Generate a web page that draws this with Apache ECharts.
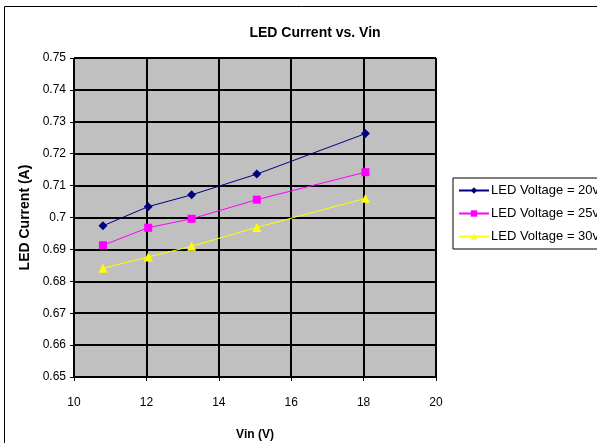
<!DOCTYPE html>
<html>
<head>
<meta charset="utf-8">
<script src="https://cdn.jsdelivr.net/npm/echarts@6/dist/echarts.min.js"></script>
<style>
  html, body { margin: 0; padding: 0; background: #fff; }
  #chart { width: 597px; height: 443px; }
</style>
</head>
<body>
<div id="chart"></div>
<script>
// Input voltage (V) at each measurement
const vin = [10.8, 12.05, 13.25, 15.05, 18.05];

// LED current (A) for each LED string voltage
const current20v = [0.6974, 0.7034, 0.7071, 0.7136, 0.7263];
const current25v = [0.6913, 0.6968, 0.6996, 0.7056, 0.7142];
const current30v = [0.6841, 0.6876, 0.6910, 0.6969, 0.7060];

const seriesNames = ['LED Voltage = 20v', 'LED Voltage = 25v', 'LED Voltage = 30v'];

const pairs = (ys) => vin.map((x, i) => [x, ys[i]]);
const FONT = 'Liberation Sans, Arial, sans-serif';

const chart = echarts.init(document.getElementById('chart'));

function makeSeries(name, ys, color, symbol, size) {
  return {
    name: name,
    type: 'line',
    data: pairs(ys),
    symbol: symbol,
    symbolSize: size,
    showAllSymbol: true,
    lineStyle: { color: color, width: 1 },
    itemStyle: { color: color },
    emphasis: { disabled: true },
    animation: false
  };
}

chart.setOption({
  animation: false,
  backgroundColor: '#ffffff',
  title: {
    text: 'LED Current vs. Vin',
    left: 310,
    textAlign: 'center',
    top: 21,
    textStyle: { fontFamily: FONT, fontSize: 14, fontWeight: 'bold', color: '#000' }
  },
  graphic: [{
    type: 'rect',
    shape: { x: 4.5, y: 6.5, width: 620, height: 460 },
    style: { fill: 'none', stroke: '#000', lineWidth: 1 },
    z: 100
  }],
  grid: {
    left: 74, right: 161, top: 58, bottom: 66,
    outerBoundsMode: 'none',
    containLabel: false,
    show: true,
    backgroundColor: '#c0c0c0',
    borderColor: '#808080',
    borderWidth: 1
  },
  legend: {
    orient: 'vertical',
    left: 453,
    top: 178,
    padding: [6, 8, 6, 5],
    itemWidth: 30,
    itemHeight: 8,
    itemGap: 10,
    backgroundColor: '#ffffff',
    borderColor: '#000',
    borderWidth: 1,
    borderRadius: 0,
    data: seriesNames,
    textStyle: { fontFamily: FONT, fontSize: 13, color: '#000', padding: [0, 0, 0, -3] }
  },
  xAxis: {
    type: 'value',
    min: 10, max: 20, interval: 2,
    name: 'Vin (V)',
    nameLocation: 'middle',
    nameGap: 52,
    nameTextStyle: { fontFamily: FONT, fontSize: 12, fontWeight: 'bold', color: '#000' },
    axisLine: { show: true, lineStyle: { color: '#000', width: 1 } },
    axisTick: { show: true, length: 4, lineStyle: { color: '#000' } },
    axisLabel: { fontFamily: FONT, fontSize: 12, color: '#000', margin: 20 },
    splitLine: { show: true, lineStyle: { color: '#000', width: 2 } }
  },
  yAxis: {
    type: 'value',
    min: 0.65, max: 0.75, interval: 0.01,
    name: 'LED Current (A)',
    nameLocation: 'middle',
    nameGap: 40,
    nameTextStyle: { fontFamily: FONT, fontSize: 14, fontWeight: 'bold', color: '#000' },
    axisLine: { show: true, lineStyle: { color: '#000', width: 1 } },
    axisTick: { show: true, length: 4, lineStyle: { color: '#000' } },
    axisLabel: { fontFamily: FONT, fontSize: 12, color: '#000', margin: 8 },
    splitLine: { show: true, lineStyle: { color: '#000', width: 2 } }
  },
  series: [
    makeSeries(seriesNames[0], current20v, '#000080', 'diamond', 9),
    makeSeries(seriesNames[1], current25v, '#ff00ff', 'rect', 8),
    makeSeries(seriesNames[2], current30v, '#ffff00', 'triangle', 9)
  ]
});
</script>
</body>
</html>
